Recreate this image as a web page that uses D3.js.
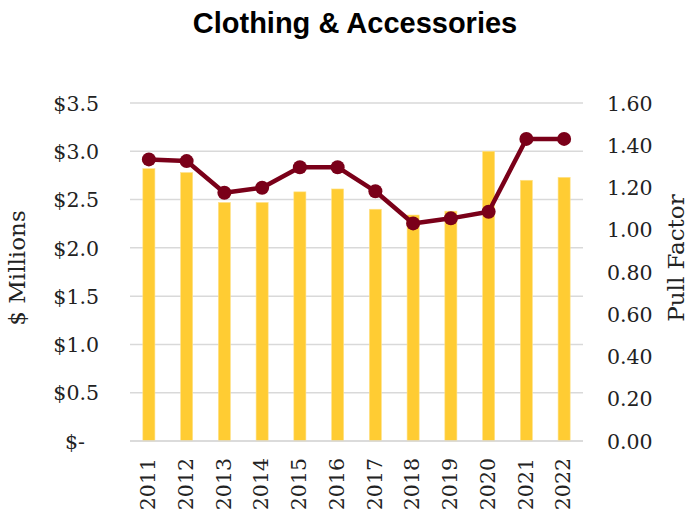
<!DOCTYPE html>
<html>
<head>
<meta charset="utf-8">
<script src="https://cdn.jsdelivr.net/npm/d3@7"></script>
<style>
  html, body { margin: 0; padding: 0; background: #fff; }
  svg { display: block; }
</style>
</head>
<body>
<svg id="chart" width="700" height="516"></svg>
<script>
// Clothing & Accessories: sales ($ millions, bars) and pull factor (line)
const years = ["2011","2012","2013","2014","2015","2016","2017","2018","2019","2020","2021","2022"];
const salesMillions = [2.82, 2.78, 2.47, 2.47, 2.58, 2.61, 2.40, 2.34, 2.38, 3.00, 2.70, 2.73];
const pullFactor = [1.333, 1.325, 1.175, 1.199, 1.296, 1.296, 1.182, 1.030, 1.054, 1.085, 1.430, 1.430];
const leftTicks = [0, 0.5, 1.0, 1.5, 2.0, 2.5, 3.0, 3.5];
const rightTicks = [0, 0.2, 0.4, 0.6, 0.8, 1.0, 1.2, 1.4, 1.6];

const svg = d3.select("#chart");
const plot = { left: 130, right: 583, top: 103, bottom: 441 };
const serif = "'DejaVu Serif', serif";
const maroon = "#7a0019";
const gold = "#ffcc33";

const x = d3.scaleBand().domain(years).range([plot.left, plot.right]).paddingInner(0.68).paddingOuter(0.34);
const yL = d3.scaleLinear().domain([0, 3.5]).range([plot.bottom, plot.top]);
const yR = d3.scaleLinear().domain([0, 1.6]).range([plot.bottom, plot.top]);

// Title
svg.append("text")
  .attr("x", 355).attr("y", 33)
  .attr("text-anchor", "middle")
  .attr("font-family", "'Liberation Sans', Arial, sans-serif")
  .attr("font-weight", "bold")
  .attr("font-size", 29)
  .attr("fill", "#000")
  .text("Clothing & Accessories");

// Gridlines
svg.append("g").selectAll("line").data(leftTicks).join("line")
  .attr("x1", plot.left).attr("x2", plot.right)
  .attr("y1", d => yL(d)).attr("y2", d => yL(d))
  .attr("stroke", "#d9d9d9").attr("stroke-width", 1.5);

// Left axis
const leftFmt = d => d === 0 ? "$-" : "$" + d3.format(".1f")(d);
const gL = svg.append("g").attr("transform", `translate(${plot.left - 31},0)`)
  .call(d3.axisLeft(yL).tickValues(leftTicks).tickFormat(leftFmt).tickSize(0).tickPadding(0));
gL.select(".domain").remove();
gL.selectAll("text").attr("font-family", serif).attr("font-size", 20.5).attr("fill", "#222").attr("dy", "0.35em");
gL.selectAll(".tick text").filter(d => d === 0).attr("dx", -14);

// Right axis
const gR = svg.append("g").attr("transform", `translate(${plot.right + 24},0)`)
  .call(d3.axisRight(yR).tickValues(rightTicks).tickFormat(d3.format(".2f")).tickSize(0).tickPadding(0));
gR.select(".domain").remove();
gR.selectAll("text").attr("font-family", serif).attr("font-size", 20.5).attr("fill", "#222").attr("dy", "0.35em");

// Bottom axis (rotated year labels)
const gB = svg.append("g").attr("transform", `translate(0,${plot.bottom})`)
  .call(d3.axisBottom(x).tickSize(0).tickPadding(0));
gB.select(".domain").remove();
gB.selectAll("text")
  .attr("font-family", serif).attr("font-size", 20.5).attr("fill", "#222")
  .attr("transform", "rotate(-90)")
  .attr("text-anchor", "end")
  .attr("x", -17).attr("y", -1)
  .attr("dy", "0.35em");

// Axis titles
svg.append("text")
  .attr("transform", `translate(25,268) rotate(-90)`)
  .attr("text-anchor", "middle")
  .attr("font-family", serif).attr("font-size", 23).attr("fill", "#222")
  .text("$ Millions");
svg.append("text")
  .attr("transform", `translate(684,258) rotate(-90)`)
  .attr("text-anchor", "middle")
  .attr("font-family", serif).attr("font-size", 23).attr("fill", "#222")
  .text("Pull Factor");

// Bars
svg.append("g").selectAll("rect").data(years).join("rect")
  .attr("x", d => x(d))
  .attr("width", x.bandwidth())
  .attr("y", (d, i) => yL(salesMillions[i]))
  .attr("height", (d, i) => plot.bottom - yL(salesMillions[i]))
  .attr("fill", gold)
  .attr("stroke", "#ffe28a").attr("stroke-width", 0.6);

// Baseline over bars
svg.append("line")
  .attr("x1", plot.left).attr("x2", plot.right)
  .attr("y1", plot.bottom).attr("y2", plot.bottom)
  .attr("stroke", "#d9d9d9").attr("stroke-width", 1.5);

// Pull factor line
const cx = d => x(d) + x.bandwidth() / 2;
const line = d3.line().x(d => cx(d)).y((d, i) => yR(pullFactor[i]));
svg.append("path")
  .datum(years)
  .attr("d", line)
  .attr("fill", "none")
  .attr("stroke", maroon)
  .attr("stroke-width", 4.5)
  .attr("stroke-linejoin", "round");
svg.append("g").selectAll("circle").data(years).join("circle")
  .attr("cx", d => cx(d))
  .attr("cy", (d, i) => yR(pullFactor[i]))
  .attr("r", 7)
  .attr("fill", maroon);
</script>
</body>
</html>
